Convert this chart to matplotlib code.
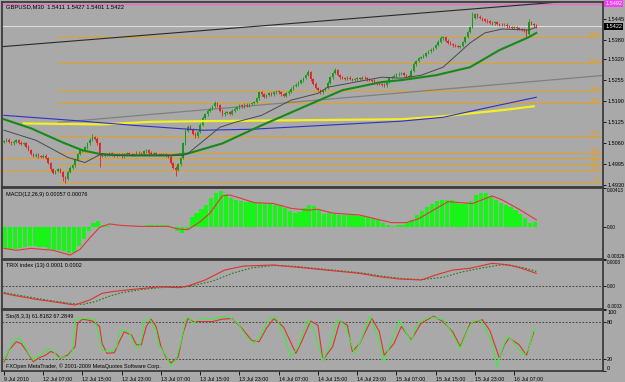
import matplotlib
matplotlib.use('Agg')  # no display

import numpy as np
import matplotlib.pyplot as plt

plt.rcParams['font.family'] = ['Liberation Sans', 'DejaVu Sans']

# ---------------------------------------------------------------------------
# Price data, GBPUSD M30 — closes in pips above 1.4900
# open of a bar = close of the previous bar
# ---------------------------------------------------------------------------
first_open = 166
close_pips = [
    168, 172, 165, 160, 166, 170, 163, 158, 162, 150,
    140, 128, 122, 125, 120, 118, 122, 115,
    100, 80, 70, 75, 80, 72, 55, 50,
    72, 85, 92, 110, 128, 140, 138, 148, 160, 172, 180, 175, 160, 125, 122,
    128, 124, 130, 126, 122, 128, 125, 120, 126, 130, 127, 124, 128, 132,
    130, 128, 136, 140, 132, 128, 130, 126, 128, 124, 126, 122, 118, 100,
    85, 78, 95, 115,
    160, 200, 212, 205, 190, 182, 195, 218,
    240, 250, 262, 268, 275, 285, 278, 262, 250, 255, 258, 252, 262, 268,
    272, 278, 275, 280, 276, 282, 285, 288,
    300, 318, 312, 305, 310, 316, 312, 318, 322, 318, 312, 308, 315, 320,
    330, 338, 342, 348,
    355, 362, 372, 380, 358, 345, 332, 325, 318, 325, 332, 348, 365, 378,
    386, 372, 365, 362, 360, 364,
    360, 356, 358, 362, 360, 364, 362, 358, 356, 354, 350, 346, 344, 342,
    340, 350, 362, 366, 370, 374,
    376, 378, 372, 368, 365, 385, 405, 415, 424, 428,
    432, 440, 445, 450, 456, 465, 475, 485, 488, 478, 472, 468, 464, 462,
    458, 462, 474, 490, 505, 520, 548,
    560, 552, 548, 544, 540, 538, 534, 532, 535, 530, 528, 526, 528, 522,
    520, 518, 520, 516, 514, 512, 510, 500, 535, 530, 525, 522,
]
# long wicks visible on the chart (bar index -> pips)
spike_high = {36: 190, 75: 216, 86: 292, 124: 388, 135: 394, 167: 412,
              178: 492, 191: 568, 214: 545}
spike_low = {24: 45, 25: 38, 39: 88, 70: 60, 213: 488}

# moving averages, sampled along the lines (bar index, pips)
gray_ma_idx = [0, 13, 26, 33, 40, 44, 60, 73, 75, 88, 94, 105, 117, 128,
               132, 154, 162, 170, 179, 190, 196, 203, 214, 217]
gray_ma_val = [201, 170, 117, 101, 129, 123, 124, 123, 129, 210, 225, 247,
               294, 315, 334, 365, 362, 371, 396, 471, 502, 514, 511, 520]
green_ma_idx = [0, 11, 24, 32, 40, 52, 68, 75, 89, 105, 121, 138, 154, 162,
                176, 190, 202, 214, 217]
green_ma_val = [235, 207, 163, 139, 126, 123, 123, 129, 160, 216, 269, 325,
                350, 356, 371, 396, 449, 489, 502]
blue_ma_idx = [0, 27, 53, 81, 101, 162, 179, 196, 217]
blue_ma_val = [247, 232, 216, 201, 204, 229, 241, 269, 303]
yellow_ma_idx = [8, 40, 60, 81, 122, 162, 179, 190, 203, 216]
yellow_ma_val = [222, 219, 227, 229, 232, 235, 244, 253, 263, 275]

# trend lines (bar index, pips)
upper_trend = ([0, 222], [460, 595])
lower_trend = ([22, 245], [225, 371])

# horizontal levels
bid_price = 1.5422
alert_price = 1.5492
fib_prices = [1.5389, 1.5308, 1.5222, 1.5184, 1.5082, 1.5029, 1.5014,
              1.4995, 1.4977, 1.4942]
fib_start = [22, 22, 22, 22, 22, 22, -1, 22, -1, 22]
fib_labels = ['100.0', '161.8', '23.6', '38.2', '50.0', '61.8', '23.6',
              '38.2', '61.8', '0.0']
price_ticks = [1.4930, 1.4995, 1.5060, 1.5125, 1.5190, 1.5255, 1.5320,
               1.5380, 1.5445]

# MACD(12,26,9): histogram every 2 bars, signal line points (x 1e-4)
macd_hist = [
    -22, -23, -23, -22, -21, -20, -20, -20.5, -21, -22.5, -23.5, -24, -25,
    -26.5, -26, -20, -12, -4, 5, 7, 3, 1, 0.5, 0.3, 0.5, 0.3, 0.5, 1, 1.5,
    2, 2.5, 3, 2.5, 2, 0.5, -4, -6, -2, 11, 15, 19, 24, 31, 36, 38, 35, 31,
    29, 28, 27, 27, 26, 26, 25, 24.5, 24, 22, 20, 17, 15, 16, 20, 23, 22,
    18, 14, 15, 14.5, 13.5, 13, 12.5, 12.5, 12, 11.5, 11, 10, 8, 5, 2, 1, 2,
    3, 5, 8, 13, 17, 21, 25, 28, 29, 29, 28.5, 26, 24.5, 25, 28, 34, 36, 36,
    33, 29, 26, 23, 21, 18.5, 14, 10, 5, 6,
]
macd_sig_idx = [0, 5, 11, 20, 27, 31, 35, 39, 43, 48, 56, 67, 71, 75, 80,
                84, 89, 92, 96, 102, 110, 117, 124, 128, 134, 145, 153, 158,
                164, 169, 173, 181, 186, 191, 199, 203, 210, 217]
macd_sig_val = [-22, -24, -22, -24, -29, -23, -11, 0, 3.6, 2, 1, 1, -1.7,
                -2.4, 6, 15, 33, 34, 31, 26, 25, 20, 18, 19, 15, 13, 8, 5, 5,
                9, 15, 27, 26, 25, 33, 29, 19, 8]

# TRIX(13) and its signal (x 1e-4)
trix_idx = [0, 3, 13, 20, 27, 29, 35, 40, 44, 53, 64, 71, 75, 82, 90, 98,
            110, 117, 124, 131, 138, 145, 153, 161, 170, 176, 183, 190, 199,
            206, 211, 217]
trix_val = [-0.93, -1.14, -1.69, -2.0, -2.33, -2.41, -1.78, -0.93, -0.72,
            -0.42, -0.09, -0.22, 0, 0.76, 2.03, 2.54, 2.67, 2.45, 2.25, 2.03,
            1.82, 1.6, 1.18, 0.89, 0.76, 1.4, 2.03, 2.25, 2.88, 2.67, 2.25,
            1.6]
trix_sig_idx = [0, 3, 13, 20, 27, 32, 37, 43, 48, 56, 66, 73, 79, 85, 93,
                101, 110, 119, 128, 138, 146, 154, 162, 170, 179, 187, 195,
                203, 209, 215, 217]
trix_sig_val = [-0.8, -1.0, -1.55, -1.9, -2.2, -2.35, -2.0, -1.3, -0.85,
                -0.45, -0.15, -0.15, 0.2, 0.6, 1.6, 2.3, 2.6, 2.5, 2.2, 1.9,
                1.65, 1.25, 0.95, 0.8, 1.1, 1.8, 2.3, 2.7, 2.5, 2.05, 1.85]

# Stochastic(8,3,3)
stoch_k_idx = [0, 2, 4, 6, 8, 10, 12, 13, 15, 18, 20, 22, 24, 26, 28, 29,
               31, 35, 37, 39, 40, 42, 44, 46, 47, 49, 51, 53, 55, 56, 57, 59,
               60, 62, 63, 66, 68, 70, 72, 74, 75, 77, 79, 82, 85, 88, 91, 95,
               99, 102, 105, 108, 111, 114, 117, 120, 124, 126, 130, 133, 136,
               139, 143, 146, 149, 152, 155, 158, 161, 162, 166, 168, 170,
               174, 179, 181, 183, 186, 189, 191, 194, 196, 199, 201, 203,
               205, 207, 209, 212, 214, 216, 217]
stoch_k_val = [18, 34, 51, 54, 45, 29, 18, 23, 26, 37, 34, 21, 23, 23, 34,
               84, 86, 86, 84, 56, 34, 32, 32, 40, 64, 67, 64, 45, 37, 51, 81,
               86, 81, 67, 43, 26, 8, 18, 45, 84, 89, 78, 84, 86, 85, 88, 90,
               80, 55, 45, 60, 85, 88, 60, 23, 40, 85, 70, 17, 45, 85, 75, 28,
               55, 90, 60, 15, 50, 82, 78, 48, 73, 81, 89, 84, 73, 59, 37, 67,
               81, 84, 73, 45, 7, 34, 56, 51, 40, 26, 37, 70, 68]
stoch_d_idx = [0, 2, 5, 7, 9, 12, 14, 17, 19, 21, 23, 26, 29, 30, 32, 36,
               39, 40, 42, 45, 47, 49, 52, 54, 56, 58, 60, 62, 64, 66, 68, 71,
               73, 75, 77, 81, 85, 89, 93, 97, 101, 104, 107, 110, 114, 119,
               121, 125, 128, 130, 134, 137, 140, 142, 145, 150, 153, 155,
               159, 162, 166, 170, 175, 179, 183, 186, 190, 195, 198, 202,
               204, 206, 210, 213, 216]
stoch_d_val = [15, 34, 48, 45, 34, 15, 21, 26, 32, 29, 21, 26, 40, 78, 85,
               82, 73, 45, 29, 30, 48, 64, 59, 43, 43, 73, 85, 73, 40, 23, 13,
               23, 62, 86, 81, 81, 81, 85, 86, 70, 50, 48, 70, 86, 72, 29, 45,
               82, 75, 18, 40, 82, 75, 32, 45, 86, 65, 26, 45, 73, 51, 78, 90,
               81, 64, 40, 78, 84, 67, 21, 43, 54, 43, 26, 64]

date_tick_idx = list(range(0, 209, 16))
date_labels = ['9 Jul 2010', '12 Jul 07:00', '12 Jul 15:00', '12 Jul 23:00',
               '13 Jul 07:00', '13 Jul 15:00', '13 Jul 23:00', '14 Jul 07:00',
               '14 Jul 15:00', '14 Jul 23:00', '15 Jul 07:00', '15 Jul 15:00',
               '15 Jul 23:00', '16 Jul 07:00']

# ---------------------------------------------------------------------------
# Style
# ---------------------------------------------------------------------------
BG = '#A9A9A9'
FRAME = '#3C3C3C'
UP = '#169A16'
DOWN = '#E02424'
ORANGE = '#F0A000'
FS = 4.0
W, H = 625, 382


def pips(v):
    return 1.49 + np.asarray(v, dtype=float) / 1e4


fig = plt.figure(figsize=(W / 100, H / 100), dpi=100)
fig.patch.set_facecolor(BG)


def panel(top, bottom, fs=FS):
    ax = fig.add_axes([2 / W, 1 - bottom / H, 601 / W, (bottom - top) / H])
    ax.set_facecolor(BG)
    for s in ax.spines.values():
        s.set_color(FRAME)
        s.set_linewidth(1.3)
    ax.set_xlim(-0.8, 244.2)
    ax.yaxis.tick_right()
    ax.tick_params(axis='y', labelsize=fs, length=2, width=0.6, pad=1.0,
                   colors='black')
    ax.tick_params(axis='x', bottom=False, labelbottom=False)
    return ax


ax_main = panel(2, 186.5)
ax_macd = panel(188, 258.5, fs=3.4)
ax_trix = panel(260, 308.5, fs=3.4)
ax_sto = panel(310, 371)

# ---------------------------------------------------------------------------
# Main price panel
# ---------------------------------------------------------------------------
ax = ax_main
ax.set_ylim(1.49269, 1.54977)

for p, start, lab in zip(fib_prices, fib_start, fib_labels):
    ax.plot([start, 245], [p, p], color=ORANGE, lw=0.6, zorder=1)
    ax.text(0.995, p, lab, transform=ax.get_yaxis_transform(), ha='right',
            va='bottom', fontsize=3.3, color=ORANGE, zorder=1)

ax.axhline(alert_price, color='#E070C8', lw=1.0, zorder=1)
ax.axhline(bid_price, color='#DCDCDC', lw=0.8, zorder=1)
ax.axline((upper_trend[0][0], pips(upper_trend[1][0])),
          (upper_trend[0][1], pips(upper_trend[1][1])),
          color='#2A2A2A', lw=0.8, zorder=2)
ax.plot(lower_trend[0], pips(lower_trend[1]), color='#808080', lw=0.9,
        zorder=2)

# candles
close = pips(close_pips)
open_ = np.concatenate([[pips(first_open)], close[:-1]])
idx = np.arange(len(close))
top = np.maximum(open_, close)
bot = np.minimum(open_, close)
high = top + 0.0004
low = bot - 0.0004
for i, v in spike_high.items():
    high[i] = max(high[i], pips(v))
for i, v in spike_low.items():
    low[i] = min(low[i], pips(v))
cols = np.where(close >= open_, UP, DOWN)
ax.vlines(idx, low, high, colors=cols, lw=0.6, zorder=3)
ax.bar(idx, np.maximum(top - bot, 0.00008), bottom=bot, width=0.6,
       color=cols, linewidth=0, zorder=3)

ax.plot(yellow_ma_idx, pips(yellow_ma_val), color='#F4F020', lw=1.6, zorder=4)
ax.plot(blue_ma_idx, pips(blue_ma_val), color='#3030C8', lw=0.8, zorder=4)
ax.plot(green_ma_idx, pips(green_ma_val), color='#168A16', lw=1.5, zorder=5)
ax.plot(gray_ma_idx, pips(gray_ma_val), color='#4A4A4A', lw=0.7, zorder=5)

ax.set_yticks(price_ticks)
ax.set_yticklabels([f'{p:.4f}' for p in price_ticks])
ax.text(1.004, bid_price, f'{bid_price:.4f}', transform=ax.get_yaxis_transform(),
        ha='left', va='center', fontsize=FS, color='white',
        bbox=dict(facecolor='black', edgecolor='none', pad=0.8))
ax.text(1.004, alert_price, f'{alert_price:.4f}',
        transform=ax.get_yaxis_transform(), ha='left', va='center',
        fontsize=FS, color='white',
        bbox=dict(facecolor='#F040F0', edgecolor='none', pad=0.8))
ax.text(0.006, 0.985, 'GBPUSD,M30  1.5411 1.5427 1.5401 1.5422',
        transform=ax.transAxes, ha='left', va='top', fontsize=4.2)

# ---------------------------------------------------------------------------
# MACD
# ---------------------------------------------------------------------------
ax = ax_macd
ax.set_ylim(-0.00326, 0.00413)
hist_idx = np.arange(0, 2 * len(macd_hist), 2)
ax.bar(hist_idx + 0.5, np.array(macd_hist) / 1e4, width=1.7,
       color='#18F418', linewidth=0, zorder=2)
ax.plot(macd_sig_idx, np.array(macd_sig_val) / 1e4, color='#E03838', lw=0.8,
        zorder=3)
ax.set_yticks([0.00413, 0, -0.00326])
ax.set_yticklabels(['0.00413', '0.00', '-0.00326'])
ax.text(0.006, 0.95, 'MACD(12,26,9) 0.00057 0.00076', transform=ax.transAxes,
        ha='left', va='top', fontsize=4.0)

# ---------------------------------------------------------------------------
# TRIX
# ---------------------------------------------------------------------------
ax = ax_trix
ax.set_ylim(-0.000286, 0.00033)
ax.axhline(0, color='#303030', lw=0.6, ls=(0, (2, 2)), zorder=1)
ax.plot(trix_sig_idx, np.array(trix_sig_val) / 1e4, color='#1E7E1E', lw=0.8,
        ls=(0, (1.5, 1.5)), zorder=2)
ax.plot(trix_idx, np.array(trix_val) / 1e4, color='#E03030', lw=0.8, zorder=3)
ax.set_yticks([0.00033, 0, -0.000286])
ax.set_yticklabels(['0.0003', '0.00', '-0.0003'])
ax.text(0.006, 0.93, 'TRIX index (13) 0.0001 0.0002', transform=ax.transAxes,
        ha='left', va='top', fontsize=4.0)

# ---------------------------------------------------------------------------
# Stochastic
# ---------------------------------------------------------------------------
ax = ax_sto
ax.set_ylim(0, 100)
for lvl in (20, 80):
    ax.axhline(lvl, color='#303030', lw=0.6, ls=(0, (2, 2)), zorder=1)
ax.plot(stoch_d_idx, stoch_d_val, color='#E03030', lw=0.8, zorder=2)
ax.plot(stoch_k_idx, stoch_k_val, color='#3CEE3C', lw=0.8, zorder=3)
ax.set_yticks([100, 80, 20, 0])
ax.set_yticklabels(['100', '80', '20', '0'])
ax.text(0.006, 0.93, 'Sto(8,3,3) 61.8182 67.2849', transform=ax.transAxes,
        ha='left', va='top', fontsize=4.0)
ax.text(0.006, 0.03,
        'FXOpen MetaTrader, \u00a9 2001-2009 MetaQuotes Software Corp.',
        transform=ax.transAxes, ha='left', va='bottom', fontsize=4.0)
ax.tick_params(axis='x', bottom=True, labelbottom=True, length=3, width=0.6,
               pad=1.5, labelsize=3.8, colors='black')
ax.set_xticks(date_tick_idx)
ax.set_xticklabels(date_labels)
for lbl in ax.get_xticklabels():
    lbl.set_horizontalalignment('left')

# vertical alignment of the edge labels, like the terminal does
for a in (ax_macd, ax_trix, ax_sto):
    labs = a.get_yticklabels()
    labs[0].set_verticalalignment('top')
    labs[-1].set_verticalalignment('bottom')

fig.savefig('out.png', dpi=100, facecolor=BG)
